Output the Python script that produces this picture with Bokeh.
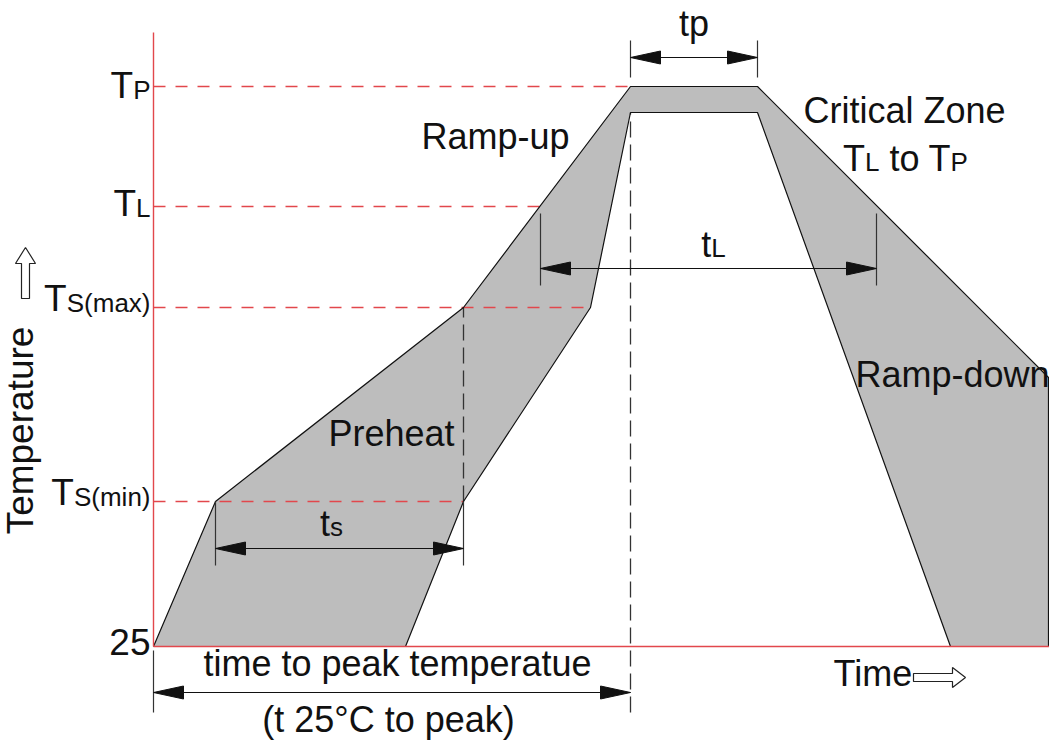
from bokeh.plotting import figure
from bokeh.models import Range1d
from bokeh.core.properties import value
from bokeh.embed import file_html
from bokeh.resources import INLINE

# ---------------- data (chart units: time to the right, temperature above 25 °C baseline)
level_labels = [("25", ""), ("T", "S(min)"), ("T", "S(max)"), ("T", "L"), ("T", "P")]
level_values = [0, 145, 339, 440, 560]
label_drop = [10, 6, 6, 12, 14]          # baseline of each label below its level line

# upper (fast) edge of the process window
outer_time = [0, 62, 310, 477, 604, 895]
outer_temp = [0, 145, 339, 560, 560, 269]
# lower (slow) edge of the process window
inner_time = [252, 310, 437, 477, 604, 797]
inner_temp = [0, 145, 339, 534, 534, 0]

# red dashed level lines: where each ends
dash_level = [560, 440, 339, 145]
dash_end = [477, 387, 437, 310]

# black dashed guide lines (x, y0, y1)
guide_x = [310, 477]
guide_y0 = [145, -66]
guide_y1 = [339, 534]

# dimension arrows
dim_start = [477, 387, 62, 0]
dim_end = [604, 723, 310, 477]
dim_y = [589, 378, 98, -46]
ext_lo = [569, 361, 81, -66]
ext_hi = [606, 433, 145, -4]
ext_right = [True, True, True, False]

AXIS_TOP = 614
AXIS_RIGHT = 900

# ---------------- figure
W, H = 1049, 745
p = figure(width=W, height=H, x_range=Range1d(-153, 896), y_range=Range1d(-99, 646),
           output_backend="svg", toolbar_location=None, min_border=0,
           x_axis_type=None, y_axis_type=None)
p.grid.visible = False
p.outline_line_color = None
p.background_fill_color = "white"

FONT = value("Liberation Sans")
BIG, SUB = 36, 26
RED = "#e2474c"
GRAY = "#bdbdbd"
INK = "#111111"
BL = 0.40   # baseline correction (fraction of font size)

# band
band_x = outer_time + [outer_time[-1]] + inner_time[::-1]
band_y = outer_temp + [0] + inner_temp[::-1]
p.patch(band_x, band_y, fill_color=GRAY, line_color=None)

# red dashed level lines
p.multi_line([[0, e] for e in dash_end], [[l, l] for l in dash_level],
             line_color=RED, line_width=1.3, line_dash="12 10")

# black dashed guides
p.multi_line([[x, x] for x in guide_x], [[a, b] for a, b in zip(guide_y0, guide_y1)],
             line_color="#333333", line_width=1.3, line_dash="16 7")

# band outline (outer edge continues down the picture's right border)
p.line(outer_time + [outer_time[-1]], outer_temp + [0], line_color=INK, line_width=1.2)
p.line(inner_time, inner_temp, line_color=INK, line_width=1.2)

# red axes
p.line([0, 0], [0, AXIS_TOP], line_color=RED, line_width=1.4)
p.line([0, AXIS_RIGHT], [0, 0], line_color=RED, line_width=1.4)

# dimension arrows
HL, HW = 30, 6.5
p.multi_line([[a, b] for a, b in zip(dim_start, dim_end)], [[y, y] for y in dim_y],
             line_color=INK, line_width=1.2)
ext_xs, ext_ys = [], []
for a, b, lo, hi, r in zip(dim_start, dim_end, ext_lo, ext_hi, ext_right):
    ext_xs.append([a, a]); ext_ys.append([lo, hi])
    if r:
        ext_xs.append([b, b]); ext_ys.append([lo, hi])
p.multi_line(ext_xs, ext_ys, line_color="#333333", line_width=1.2)
hx, hy = [], []
for a, b, y in zip(dim_start, dim_end, dim_y):
    hx.append([a, a + HL, a + HL]); hy.append([y, y + HW, y - HW])
    hx.append([b, b - HL, b - HL]); hy.append([y, y + HW, y - HW])
p.patches(hx, hy, fill_color=INK, line_color=INK, line_width=1)

# hollow arrows (Temperature up, Time right)
def up_arrow(x0, y0, length=51, hl=16, hw=10, sw=4):
    return ([x0, x0 + hw, x0 + sw, x0 + sw, x0 - sw, x0 - sw, x0 - hw],
            [y0, y0 - hl, y0 - hl, y0 - length, y0 - length, y0 - hl, y0 - hl])

def right_arrow(x0, y0, length=52, hl=13, hw=10, sw=4):
    return ([x0, x0 - hl, x0 - hl, x0 - length, x0 - length, x0 - hl, x0 - hl],
            [y0, y0 + hw, y0 + sw, y0 + sw, y0 - sw, y0 - sw, y0 - hw])

ux, uy = up_arrow(-128, 399)
rx, ry = right_arrow(812, -31)
p.patches([ux, rx], [uy, ry], fill_color="white", line_color="#222222", line_width=1.2)

# ---------------- text helpers
WID = {"S": 667, "(": 333, ")": 333, "m": 833, "a": 556, "x": 500, "i": 222, "n": 556,
       "P": 667, "L": 556, "T": 611, "t": 278, "s": 500, "p": 556, "o": 556, " ": 278,
       "2": 556, "5": 556}

def width(s, size):
    if isinstance(s, (int, float)):
        return s
    return sum(WID.get(c, 556) for c in s) * size / 1000.0

def rich(x, y, pieces, align="left"):
    total = sum(width(t, s) for t, s in pieces)
    if align == "right":
        x0 = x - total
    elif align == "center":
        x0 = x - total / 2
    else:
        x0 = x
    for t, s in pieces:
        if isinstance(t, str) and t:
            p.text([x0], [y + BL * s], text=[t], text_font=FONT, text_font_size=f"{s}px",
                   text_align="left", text_baseline="alphabetic", text_color=INK)
        x0 += width(t, s)

def txt(x, y, t, size=BIG, align="center", angle=0):
    if angle:
        x = x - BL * size
    else:
        y = y + BL * size
    p.text([x], [y], text=[t], text_font=FONT, text_font_size=f"{size}px",
           text_align=align, text_baseline="alphabetic", text_color=INK, angle=angle)

# level labels
for (main, sub), lv, dr in zip(level_labels, level_values, label_drop):
    rich(-3, lv - dr, [(main, BIG + 1), (sub, SUB)], align="right")

# axis titles
txt(-118, 216, "Temperature", size=37, angle=1.5708)
txt(680, -41, "Time", align="left")

# dimension labels
rich((dim_start[0] + dim_end[0]) / 2, dim_y[0] + 20, [("tp", BIG)], align="center")
rich(560, dim_y[1] + 10, [("t", BIG), ("L", SUB)], align="center")
rich(178, dim_y[2] + 11, [("t", BIG), ("s", SUB)], align="center")
txt(244, dim_y[3] + 15, "time to peak temperatue")
txt(235, dim_y[3] - 41, "(t 25°C to peak)")

# zone labels
txt(342, 496, "Ramp-up")
txt(238, 199, "Preheat")
txt(751, 522, "Critical Zone")
rich(752, 474, [("T", BIG), ("L", SUB), (10, 0), ("to", BIG), (9, 0), ("T", BIG), ("P", SUB)],
     align="center")
txt(702, 258, "Ramp-down", align="left")

open("out.html", "w").write(file_html(p, INLINE))
